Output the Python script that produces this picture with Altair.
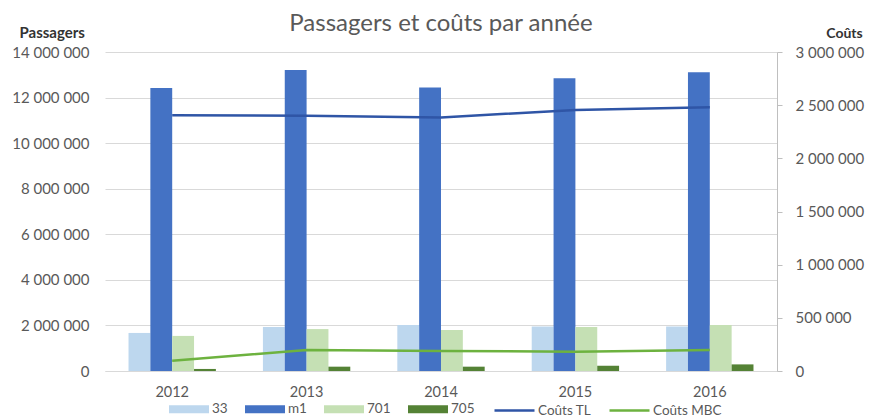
import altair as alt
import pandas as pd

years = ["2012", "2013", "2014", "2015", "2016"]
bar_series = ["33", "m1", "701", "705"]
v33 = [1670000, 1930000, 2020000, 1950000, 1950000]
vm1 = [12420000, 13210000, 12440000, 12850000, 13110000]
v701 = [1540000, 1840000, 1800000, 1930000, 2020000]
v705 = [90000, 190000, 190000, 230000, 290000]
line_series = ["Coûts TL", "Coûts MBC"]
couts_tl = [2405000, 2400000, 2385000, 2455000, 2480000]
couts_mbc = [97000, 197000, 188000, 182000, 197000]
left_ticks = [0, 2000000, 4000000, 6000000, 8000000, 10000000, 12000000, 14000000]
right_ticks = [0, 500000, 1000000, 1500000, 2000000, 2500000, 3000000]

bar_colors = ["#BDD7EE", "#4472C4", "#C5E0B4", "#548235"]
line_colors = ["#2F55A6", "#6DB23F"]

rows = []
for s, vals in zip(bar_series, [v33, vm1, v701, v705]):
    for y, v in zip(years, vals):
        rows.append({"annee": y, "serie": s, "passagers": v})
bars_df = pd.DataFrame(rows)

rows = []
for s, vals in zip(line_series, [couts_tl, couts_mbc]):
    for y, v in zip(years, vals):
        rows.append({"annee": y, "courbe": s, "cout": v})
lines_df = pd.DataFrame(rows)

FONT = "Lato"
LBL = "#595959"
fmt = "replace(format(datum.value, ','), /,/g, ' ')"

x_enc = alt.X(
    "annee:N",
    sort=years,
    scale=alt.Scale(paddingInner=0.35, paddingOuter=0.175),
    axis=alt.Axis(title=None, labelAngle=0, ticks=False, domain=True,
                  domainColor="#d9d9d9", labelPadding=14, labelFontSize=14.5,
                  labelColor=LBL, labelFont=FONT),
)

bars = alt.Chart(bars_df).mark_bar().encode(
    x=x_enc,
    xOffset=alt.XOffset("serie:N", sort=bar_series,
                        scale=alt.Scale(domain=bar_series, paddingInner=0, paddingOuter=0)),
    y=alt.Y("passagers:Q",
            scale=alt.Scale(domain=[0, 14000000], nice=False),
            axis=alt.Axis(orient="left", values=left_ticks, labelExpr=fmt,
                          grid=True, gridColor="#d9d9d9", domain=False, ticks=False,
                          labelPadding=16, labelFontSize=15, labelColor=LBL, labelFont=FONT,
                          title="Passagers", titleAngle=0, titleAlign="left",
                          titleBaseline="middle", titleX=-86, titleY=-20,
                          titleFontSize=15, titleFontWeight="bold", titleColor="#333333",
                          titleFont=FONT)),
    color=alt.Color("serie:N",
                    scale=alt.Scale(domain=bar_series, range=bar_colors),
                    legend=alt.Legend(orient="none", direction="horizontal", legendX=64,
                                      legendY=337, title=None,
                                      symbolType="M-1,-0.2L1,-0.2L1,0.2L-1,0.2Z",
                                      symbolSize=1600, symbolStrokeWidth=0,
                                      labelFontSize=13.5, labelColor=LBL, labelFont=FONT,
                                      labelOffset=3, columnPadding=17)),
)

lines = alt.Chart(lines_df).mark_line(strokeWidth=2.5).encode(
    x=x_enc,
    y=alt.Y("cout:Q",
            scale=alt.Scale(domain=[0, 3000000], nice=False),
            axis=alt.Axis(orient="right", values=right_ticks, labelExpr=fmt,
                          grid=False, domain=True, domainColor="#bfbfbf", ticks=True,
                          tickColor="#bfbfbf", tickSize=5, labelPadding=13,
                          labelFontSize=15, labelColor=LBL, labelFont=FONT,
                          title="Coûts", titleAngle=0, titleAlign="center",
                          titleBaseline="middle", titleX=67, titleY=-19,
                          titleFontSize=14, titleFontWeight="bold", titleColor="#333333",
                          titleFont=FONT)),
    stroke=alt.Stroke("courbe:N", sort=line_series,
                      scale=alt.Scale(domain=line_series, range=line_colors),
                      legend=alt.Legend(orient="none", direction="horizontal", legendX=388,
                                        legendY=337, title=None, symbolType="stroke",
                                        symbolSize=1600, symbolStrokeWidth=2.5,
                                        labelFontSize=13.5, labelColor=LBL, labelFont=FONT,
                                        labelOffset=2, columnPadding=12)),
)

chart = alt.layer(bars, lines).resolve_scale(
    y="independent", color="independent", stroke="independent"
).properties(
    width=672,
    height=319,
    autosize=alt.AutoSizeParams(type="none"),
    padding={"left": 97, "top": 44, "right": 88, "bottom": 50},
    title=alt.TitleParams("Passagers et coûts par année", anchor="middle",
                          fontSize=24, fontWeight="normal", color=LBL, font=FONT,
                          offset=14, dy=25),
).configure_view(stroke=None)

chart.save("out.html", embed_options={"renderer": "svg", "actions": False})
